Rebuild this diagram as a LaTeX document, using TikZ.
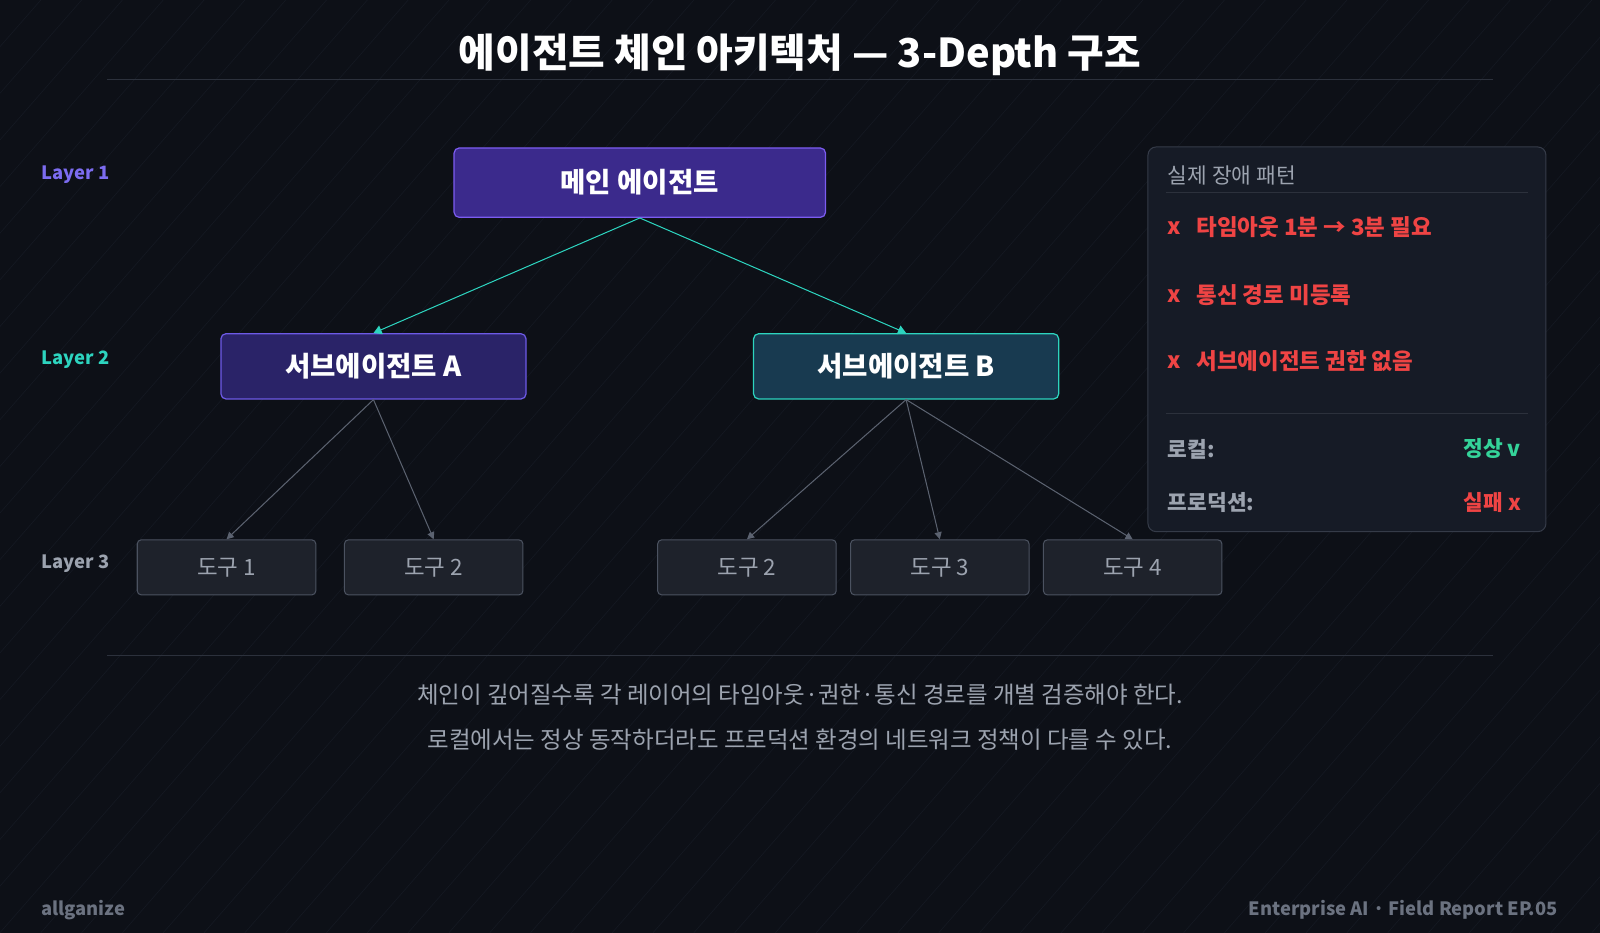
\documentclass[tikz,border=0pt]{standalone}
\usepackage{fontspec}
\setmainfont{Noto Sans CJK KR}
\usetikzlibrary{arrows.meta}
\definecolor{bg}{HTML}{0D1017}
\definecolor{stripe}{HTML}{151923}
\definecolor{rule}{HTML}{2C313C}
\definecolor{lpurple}{HTML}{7C6CF0}
\definecolor{lteal}{HTML}{2DD4BF}
\definecolor{lgray}{HTML}{9CA3AF}
\definecolor{dgray}{HTML}{6B7280}
\definecolor{mainfill}{HTML}{3B2A8C}
\definecolor{mainborder}{HTML}{7C5CF0}
\definecolor{afill}{HTML}{2A2368}
\definecolor{aborder}{HTML}{6D5AE6}
\definecolor{bfill}{HTML}{183A50}
\definecolor{toolfill}{HTML}{1E222B}
\definecolor{toolborder}{HTML}{4B5260}
\definecolor{panelfill}{HTML}{161B26}
\definecolor{panelborder}{HTML}{353B48}
\definecolor{red}{HTML}{EF4444}
\definecolor{green}{HTML}{34D399}
\definecolor{arrgray}{HTML}{5B6270}
\begin{document}
\begin{tikzpicture}[x=1pt,y=-1pt,
  box/.style={draw, rounded corners=5pt, line width=1.2pt, text=white, font=\bfseries\fontsize{27}{31}\selectfont},
  tool/.style={draw=toolborder, fill=toolfill, rounded corners=4pt, line width=1pt, minimum width=175pt, minimum height=54pt, text=lgray, font=\fontsize{22}{26}\selectfont},
  layer/.style={anchor=west, font=\bfseries\fontsize{18}{21}\selectfont},
  item/.style={anchor=west, text=red, font=\bfseries\fontsize{22}{26}\selectfont},
  teal arrow/.style={draw=lteal, line width=1pt, -{Triangle[length=8pt,width=9pt]}},
  gray arrow/.style={draw=arrgray, line width=1pt, -{Triangle[length=7pt,width=7pt]}},
  foot/.style={text=lgray, font=\fontsize{23}{27}\selectfont}
]
\fill[bg] (0,0) rectangle (1568,914);
\useasboundingbox (0,0) rectangle (1568,914);
\begin{scope}
\clip (0,0) rectangle (1568,914);
\foreach \i in {-1000,-960,...,1600} {
  \draw[stripe, line width=0.6pt] (\i,914) -- (\i+800,0);
}
\end{scope}
% title
\node[text=white, font=\bfseries\fontsize{39}{43}\selectfont] (title) at (784,54) {에이전트 체인 아키텍처 — 3-Depth 구조};
\draw[rule, line width=1pt] (105,78) -- (1463,78);
% layer labels
\node[layer, text=lpurple] (l1) at (37,171) {Layer 1};
\node[layer, text=lteal] (l2) at (37,352) {Layer 2};
\node[layer, text=lgray] (l3) at (37,552) {Layer 3};
% nodes
\node[box, fill=mainfill, draw=mainborder, minimum width=364pt, minimum height=68pt] (main) at (627,179) {메인 에이전트};
\node[box, fill=afill, draw=aborder, minimum width=299pt, minimum height=64pt] (a) at (366,359) {서브에이전트 A};
\node[box, fill=bfill, draw=lteal, minimum width=299pt, minimum height=64pt] (b) at (888,359) {서브에이전트 B};
\node[tool] (t1) at (222,556) {도구 1};
\node[tool] (t2) at (425,556) {도구 2};
\node[tool] (t3) at (732,556) {도구 2};
\node[tool] (t4) at (921,556) {도구 3};
\node[tool] (t5) at (1110,556) {도구 4};
% arrows
\draw[teal arrow] (main.south) -- (a.north);
\draw[teal arrow] (main.south) -- (b.north);
\draw[gray arrow] (a.south) -- (t1.north);
\draw[gray arrow] (a.south) -- (t2.north);
\draw[gray arrow] (b.south) -- (t3.north);
\draw[gray arrow] (b.south) -- (t4.north);
\draw[gray arrow] (b.south) -- (t5.north);
% panel
\node[draw=panelborder, fill=panelfill, rounded corners=8pt, line width=1pt, minimum width=390pt, minimum height=377pt] (panel) at (1320,332.5) {};
\node[anchor=west, text=lgray, font=\fontsize{21}{25}\selectfont] (ptitle) at (1141,172) {실제 장애 패턴};
\draw[rule, line width=1pt] (1143,189) -- (1497,189);
\node[item] (x1) at (1141,224) {x};
\node[item] (i1) at (1169,223) {타임아웃 1분 → 3분 필요};
\node[item] (x2) at (1141,290) {x};
\node[item] (i2) at (1169,289) {통신 경로 미등록};
\node[item] (x3) at (1141,355) {x};
\node[item] (i3) at (1169,354) {서브에이전트 권한 없음};
\draw[rule, line width=1pt] (1143,405) -- (1497,405);
\node[anchor=west, text=lgray, font=\bfseries\fontsize{21}{25}\selectfont] (loc) at (1141,440) {로컬:};
\node[anchor=east, text=green, font=\bfseries\fontsize{21}{25}\selectfont] (ok) at (1494,440) {정상 v};
\node[anchor=west, text=lgray, font=\bfseries\fontsize{21}{25}\selectfont] (prod) at (1141,492) {프로덕션:};
\node[anchor=east, text=red, font=\bfseries\fontsize{21}{25}\selectfont] (fail) at (1494,492) {실패 x};
% bottom
\draw[rule, line width=1pt] (105,642) -- (1463,642);
\node[foot] (f1) at (784,681) {체인이 깊어질수록 각 레이어의 타임아웃·권한·통신 경로를 개별 검증해야 한다.};
\node[foot] (f2) at (784,725) {로컬에서는 정상 동작하더라도 프로덕션 환경의 네트워크 정책이 다를 수 있다.};
\node[anchor=west, text=dgray, font=\bfseries\fontsize{18}{22}\selectfont] (brand) at (37,892) {allganize};
\node[anchor=east, text=dgray, font=\bfseries\fontsize{18}{22}\selectfont] (ep) at (1530,892) {Enterprise AI · Field Report EP.05};
\end{tikzpicture}
\end{document}
